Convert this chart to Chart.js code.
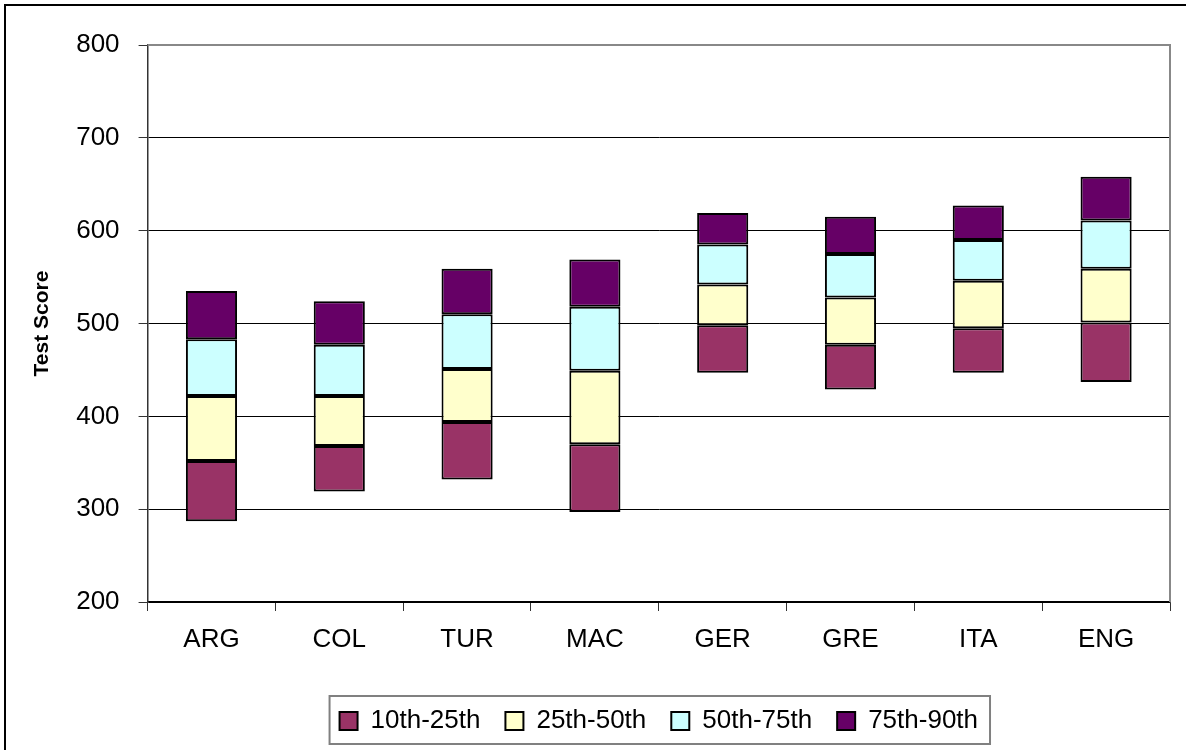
<!DOCTYPE html>
<html>
<head>
<meta charset="utf-8">
<script src="https://cdn.jsdelivr.net/npm/chart.js@4"></script>
<style>
  body { margin: 0; background: #fff; }
  canvas { display: block; }
</style>
</head>
<body>
<canvas id="score-chart" width="1186" height="750"></canvas>
<script>
// countries and percentile scores
const countries = ['ARG', 'COL', 'TUR', 'MAC', 'GER', 'GRE', 'ITA', 'ENG'];
const p10 = [287, 319, 332, 297, 447, 429, 447, 437];
const p25 = [352, 368, 394, 370, 498, 477, 495, 501];
const p50 = [422, 422, 451, 449, 542, 528, 546, 559];
const p75 = [483, 477, 510, 518, 585, 575, 590, 611];
const p90 = [535, 524, 559, 569, 619, 615, 627, 658];

const yTicks = [200, 300, 400, 500, 600, 700, 800];
const bandLabels = ['10th-25th', '25th-50th', '50th-75th', '75th-90th'];
const bandColors = ['#993366', '#FFFFCC', '#CCFFFF', '#660066'];

// each band is a floating bar from one percentile to the next
const bands = [[p10, p25], [p25, p50], [p50, p75], [p75, p90]];

Chart.defaults.font.family = '"Liberation Sans", Arial, sans-serif';
Chart.defaults.color = '#000';

// grey frame on top and right of plot area, like Excel
const plotFrame = {
    id: 'plotFrame',
    beforeDatasetsDraw(chart) {
        const a = chart.chartArea;
        const c = chart.ctx;
        c.save();
        c.strokeStyle = '#888';
        c.lineWidth = 2;
        c.beginPath();
        c.moveTo(a.left, a.top);
        c.lineTo(a.right, a.top);
        c.lineTo(a.right, a.bottom);
        c.stroke();
        c.restore();
    }
};

// outer chart border + box around legend
const borders = {
    id: 'borders',
    afterDraw(chart) {
        const c = chart.ctx;
        c.save();
        c.strokeStyle = '#000';
        c.lineWidth = 2;
        c.strokeRect(5, 5, 1400, 1000);

        const hb = chart.legend.legendHitBoxes;
        if (hb && hb.length) {
            const first = hb[0];
            const last = hb[hb.length - 1];
            const mid = first.top + first.height / 2;
            c.strokeStyle = '#808080';
            c.strokeRect(first.left - 10, mid - 25, last.left + last.width + 12 - (first.left - 10), 48);
        }
        c.restore();
    }
};

const ctx = document.getElementById('score-chart');

new Chart(ctx, {
    type: 'bar',
    data: {
        labels: countries,
        datasets: bands.map((b, k) => ({
            label: bandLabels[k],
            data: b[0].map((lo, i) => [lo, b[1][i]]),
            backgroundColor: bandColors[k],
            borderColor: '#000',
            borderWidth: 2,
            borderSkipped: false,
            grouped: false,
            categoryPercentage: 1,
            barPercentage: 0.4
        }))
    },
    options: {
        responsive: false,
        animation: false,
        layout: {
            padding: { left: 3, right: 16, top: 45, bottom: 6 }
        },
        plugins: {
            tooltip: { enabled: false },
            legend: {
                position: 'bottom',
                fullSize: false,
                labels: {
                    boxWidth: 18,
                    boxHeight: 18,
                    padding: 25,
                    font: { size: 26 }
                }
            }
        },
        scales: {
            x: {
                grid: {
                    display: true,
                    drawOnChartArea: false,
                    drawTicks: true,
                    tickLength: 9,
                    color: '#333'
                },
                border: { color: '#000', width: 1.5 },
                ticks: { font: { size: 26 }, padding: 13 },
                afterFit: (scale) => { scale.height = 81; }
            },
            y: {
                min: 200,
                max: 800,
                afterBuildTicks: (scale) => { scale.ticks = yTicks.map(v => ({ value: v })); },
                grid: {
                    color: (c) => (c.tick && c.tick.value === 800 ? '#888' : '#000'),
                    tickColor: '#333',
                    tickLength: 9,
                    lineWidth: 1
                },
                border: { color: '#333', width: 1.5 },
                ticks: { font: { size: 26 }, padding: 19 },
                title: {
                    display: true,
                    text: 'Test Score',
                    font: { size: 21, weight: 'bold' },
                    padding: { top: 27, bottom: 2 }
                }
            }
        }
    },
    plugins: [plotFrame, borders]
});
</script>
</body>
</html>
